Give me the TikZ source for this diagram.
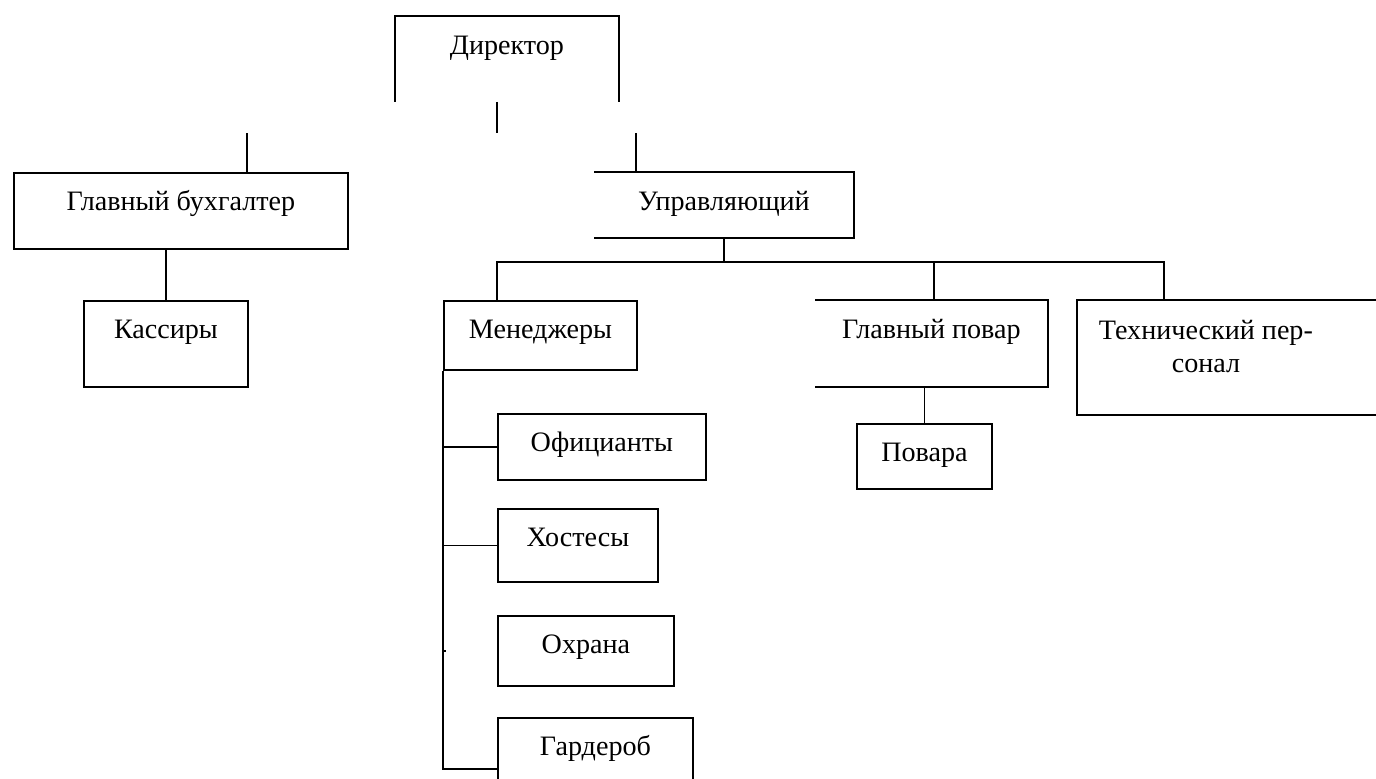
\documentclass[tikz,border=0pt]{standalone}
\usepackage{fontspec}
\setmainfont{Liberation Serif}
\tikzset{
  box/.style={draw, anchor=north west, inner sep=0pt, text height=0.95cm, text depth=#1-0.95cm, align=center, font=\fontsize{20}{24}\selectfont},
  bare/.style={box=#1, draw=none},
}
\begin{document}
\begin{tikzpicture}[x=0.025cm, y=-0.025cm, line width=1.3pt]
    \useasboundingbox (0,0) rectangle (1376,778);
    % boxes
    \node (dir) [bare=2.1cm, minimum width=5.55cm] at (395,16) {Директор};
    \node (buh) [box=1.9cm, minimum width=8.35cm] at (13,172) {Главный бухгалтер};
    \node (upr) [bare=1.6cm, minimum width=6.45cm] at (594,172) {Управляющий};
    \node (kas) [box=2.15cm, minimum width=4.1cm] at (83,300) {Кассиры};
    \node (men) [box=1.725cm, minimum width=4.825cm] at (443,300) {Менеджеры};
    \node (gpov) [bare=2.125cm, minimum width=5.775cm] at (815,300) {Главный повар};
    \node (tech) [bare=2.825cm, minimum width=6.4cm, text height=1.8cm, text depth=1.025cm] at (1077,300) {Технический пер-\\сонал};
    \node (pov) [box=1.625cm, minimum width=3.375cm] at (856,423) {Повара};
    \node (ofi) [box=1.65cm, minimum width=5.2cm] at (497,413) {Официанты};
    \node (hos) [box=1.825cm, minimum width=4cm] at (497,508) {Хостесы};
    \node (ohr) [box=1.75cm, minimum width=4.4cm] at (497,615) {Охрана};
    \node (gar) [box=2.55cm, minimum width=4.875cm] at (497,717) {Гардероб};
    \coordinate (edge) at (1380,0);

    % open borders
    \draw (dir.south west) -- (dir.north west) -- (dir.north east) -- (dir.south east);
    \draw (upr.north west) -- (upr.north east) -- (upr.south east) -- (upr.south west);
    \draw (gpov.north west) -- (gpov.north east) -- (gpov.south east) -- (gpov.south west);
    \draw (edge |- tech.north) -- (tech.north west) -- (tech.south west) -- (edge |- tech.south);

    % connectors
    \coordinate (c0) at (497,133);
    \coordinate (c1) at (247,133);
    \coordinate (c2) at (636,133);
    \draw (c0 |- dir.south) -- (c0);
    \draw (c1) -- (c1 |- buh.north);
    \draw (c2) -- (c2 |- upr.north);
    \draw (kas.north) -- (kas.north |- buh.south);

    \coordinate (b1) at (497,262);
    \coordinate (b2) at (934,262);
    \coordinate (b3) at (1164,262);
    \draw (upr.south) -- (upr.south |- b1);
    \draw (b1 |- men.north) -- (b1) -- (b3) -- (b3 |- tech.north);
    \draw (b2) -- (b2 |- gpov.north);
    \draw (pov.north) -- (pov.north |- gpov.south);

    \draw (men.south west) |- (gar.west);
    \draw (men.south west |- ofi.west) -- (ofi.west);
    \draw (men.south west |- hos.west) -- (hos.west);
    \draw (men.south west |- ohr.west) -- ++(3,0);
\end{tikzpicture}
\end{document}
